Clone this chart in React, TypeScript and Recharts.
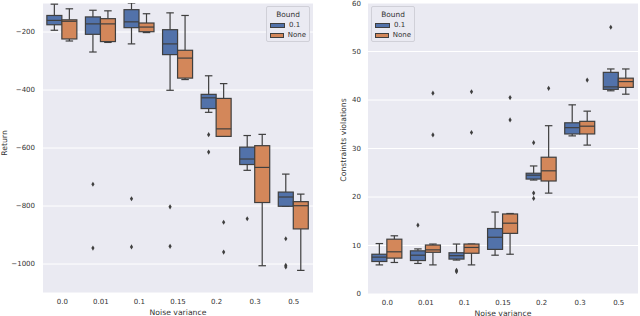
import React from 'react';
import { ComposedChart, Bar, XAxis, YAxis, CartesianGrid, Legend } from 'recharts';

const categories = ['0.0', '0.01', '0.1', '0.15', '0.2', '0.3', '0.5'];
const hueLabels = ['0.1', 'None'];

// Return panel, Bound = 0.1
const retBlueWhiHi = [-104, -125, -100, -134, -351, -557, -690];
const retBlueQ3 = [-143, -148, -123, -192, -415, -597, -752];
const retBlueMed = [-160, -172, -165, -241, -427, -638, -769];
const retBlueQ1 = [-175, -208, -185, -278, -464, -657, -801];
const retBlueWhiLo = [-194, -269, -241, -401, -477, -677, -801];
const retBlueOut = [[], [-725, -945], [-775, -941], [-803, -939], [-554, -614], [-844], [-913, -1005, -1010]];
// Return panel, Bound = None
const retOrWhiHi = [-120, -127, -137, -143, -378, -553, -759];
const retOrQ3 = [-158, -154, -169, -263, -429, -592, -785];
const retOrMed = [-163, -172, -183, -290, -534, -667, -799];
const retOrQ1 = [-224, -233, -199, -359, -560, -788, -879];
const retOrWhiLo = [-231, -236, -202, -364, -560, -1006, -1022];
const retOrOut = [[], [], [], [], [-856, -959], [], []];

// Constraint violations panel, Bound = 0.1
const conBlueWhiHi = [10.4, 9.3, 10.3, 16.9, 26.4, 39.0, 46.4];
const conBlueQ3 = [8.2, 8.9, 8.5, 13.5, 24.9, 35.3, 45.7];
const conBlueMed = [7.6, 8.0, 7.9, 11.7, 24.5, 34.3, 42.7];
const conBlueQ1 = [6.7, 6.9, 7.2, 9.2, 23.7, 33.0, 42.2];
const conBlueWhiLo = [6.0, 6.3, 7.0, 8.0, 23.5, 32.6, 41.9];
const conBlueOut = [[], [14.2], [4.9, 4.6], [], [20.8, 19.7, 31.2], [], [55.0]];
// Constraint violations panel, Bound = None
const conOrWhiHi = [12.0, 10.3, 10.3, 16.6, 34.7, 37.7, 46.4];
const conOrQ3 = [11.3, 10.1, 10.3, 16.5, 28.2, 35.6, 44.5];
const conOrMed = [8.7, 9.1, 9.6, 14.6, 25.4, 34.6, 43.8];
const conOrQ1 = [7.4, 8.6, 8.4, 12.5, 23.3, 33.0, 42.6];
const conOrWhiLo = [6.5, 6.0, 6.0, 8.2, 20.8, 30.7, 41.2];
const conOrOut = [[], [41.4, 32.8], [41.7, 33.3], [40.5, 35.9], [42.4], [44.1], []];

const retTicks = [-1000, -800, -600, -400, -200];
const conTicks = [0, 10, 20, 30, 40, 50, 60];

const BLUE = '#5272aa';
const ORANGE = '#d3875a';
const EDGE = '#3f3f3f';
const BG = '#eaeaf2';
const TEXT = '#333333';
const FONT = 'DejaVu Sans, sans-serif';

type Stats = { lo: number; q1: number; med: number; q3: number; hi: number; out: number[] };

function buildRows(
  bHi: number[], bQ3: number[], bMed: number[], bQ1: number[], bLo: number[], bOut: number[][],
  oHi: number[], oQ3: number[], oMed: number[], oQ1: number[], oLo: number[], oOut: number[][]
) {
  return categories.map((cat, i) => {
    const b: Stats = { lo: bLo[i], q1: bQ1[i], med: bMed[i], q3: bQ3[i], hi: bHi[i], out: bOut[i] };
    const o: Stats = { lo: oLo[i], q1: oQ1[i], med: oMed[i], q3: oQ3[i], hi: oHi[i], out: oOut[i] };
    return { cat, b, o, bRange: [b.lo, b.hi], oRange: [o.lo, o.hi] };
  });
}

const retRows = buildRows(
  retBlueWhiHi, retBlueQ3, retBlueMed, retBlueQ1, retBlueWhiLo, retBlueOut,
  retOrWhiHi, retOrQ3, retOrMed, retOrQ1, retOrWhiLo, retOrOut
);
const conRows = buildRows(
  conBlueWhiHi, conBlueQ3, conBlueMed, conBlueQ1, conBlueWhiLo, conBlueOut,
  conOrWhiHi, conOrQ3, conOrMed, conOrQ1, conOrWhiLo, conOrOut
);

const BoxShape = (props: any) => {
  const { x, y, width, height, payload, hue, color } = props;
  const s: Stats = payload[hue];
  const top = Math.min(y, y + height);
  const bot = Math.max(y, y + height);
  const span = s.hi - s.lo;
  const py = (v: number) => top + ((s.hi - v) / span) * (bot - top);
  const cx = x + width / 2;
  const capW = width / 2;
  const yQ3 = py(s.q3);
  const yQ1 = py(s.q1);
  const yMed = py(s.med);
  return (
    <g>
      <line x1={cx} x2={cx} y1={top} y2={yQ3} stroke={EDGE} strokeWidth={1.2} />
      <line x1={cx} x2={cx} y1={yQ1} y2={bot} stroke={EDGE} strokeWidth={1.2} />
      <line x1={cx - capW / 2} x2={cx + capW / 2} y1={top} y2={top} stroke={EDGE} strokeWidth={1.2} />
      <line x1={cx - capW / 2} x2={cx + capW / 2} y1={bot} y2={bot} stroke={EDGE} strokeWidth={1.2} />
      <rect x={x} y={yQ3} width={width} height={Math.max(yQ1 - yQ3, 0.5)} fill={color} stroke={EDGE} strokeWidth={1.2} />
      <line x1={x} x2={x + width} y1={yMed} y2={yMed} stroke={EDGE} strokeWidth={1.2} />
      {s.out.map((v, k) => {
        const oy = py(v);
        return (
          <path
            key={k}
            d={`M${cx},${oy - 2.6} L${cx + 1.6},${oy} L${cx},${oy + 2.6} L${cx - 1.6},${oy} Z`}
            fill={EDGE}
          />
        );
      })}
    </g>
  );
};

const LegendBox = () => (
  <div
    style={{
      width: 44,
      height: 36,
      boxSizing: 'border-box',
      border: '1px solid #d0d0d8',
      borderRadius: 2,
      background: BG,
      fontFamily: FONT,
      fontSize: 7,
      color: TEXT,
      padding: '3px 3px 0 3px',
    }}
  >
    <div style={{ textAlign: 'center', height: 10, lineHeight: '10px', fontSize: 7.4 }}>Bound</div>
    {hueLabels.map((lab, i) => (
      <div key={lab} style={{ display: 'flex', alignItems: 'center', height: 10, lineHeight: '10px' }}>
        <span
          style={{
            display: 'inline-block',
            width: 15,
            height: 5,
            background: i === 0 ? BLUE : ORANGE,
            border: `1px solid ${EDGE}`,
            boxSizing: 'border-box',
            marginRight: 4,
          }}
        />
        <span>{lab}</span>
      </div>
    ))}
  </div>
);

const RotLabel = (props: any) => {
  const { viewBox, value, dx, cy } = props;
  const vx = viewBox.x + dx;
  return (
    <text
      x={vx}
      y={cy}
      transform={`rotate(-90 ${vx} ${cy})`}
      textAnchor="middle"
      dominantBaseline="central"
      fontFamily={FONT}
      fontSize={7.7}
      fill={TEXT}
    >
      {value}
    </text>
  );
};

const fmtMinus = (v: number) => (v < 0 ? `\u2212${Math.abs(v)}` : `${v}`);

const tickStyle = { fontSize: 7, fill: TEXT, fontFamily: FONT };

export default function App() {
  return (
    <div style={{ position: 'absolute', left: 0, top: 0, width: 640, height: 316, background: '#fff' }}>
      <div style={{ position: 'absolute', left: 0, top: 0 }}>
        <ComposedChart
          width={320}
          height={316}
          data={retRows}
          margin={{ top: 3, right: 7, bottom: 0, left: 0 }}
          barCategoryGap="10%"
          barGap={0}
        >
          <CartesianGrid vertical={false} stroke="#ffffff" strokeWidth={1} fill={BG} />
          <XAxis
            dataKey="cat"
            height={23}
            tickLine={false}
            axisLine={false}
            tickSize={0}
            tickMargin={6}
            tick={tickStyle}
            label={{ value: 'Noise variance', position: 'insideBottom', offset: 1.5, fontSize: 7.7, fill: TEXT, fontFamily: FONT }}
          />
          <YAxis
            type="number"
            domain={[-1100, -100]}
            allowDataOverflow
            ticks={retTicks}
            width={43}
            tickLine={false}
            axisLine={false}
            tickSize={0}
            tickMargin={8}
            tick={tickStyle}
            tickFormatter={fmtMinus}
            label={<RotLabel value="Return" dx={4.5} cy={143} />}
          />
          <Bar dataKey="bRange" isAnimationActive={false} shape={(p: any) => <BoxShape {...p} hue="b" color={BLUE} />} />
          <Bar dataKey="oRange" isAnimationActive={false} shape={(p: any) => <BoxShape {...p} hue="o" color={ORANGE} />} />
          <Legend
            layout="horizontal"
            verticalAlign="middle"
            align="center"
            wrapperStyle={{ left: 266, top: 6, width: 44, height: 36 }}
            content={() => <LegendBox />}
          />
        </ComposedChart>
      </div>
      <div style={{ position: 'absolute', left: 320, top: 0 }}>
        <ComposedChart
          width={320}
          height={316}
          data={conRows}
          margin={{ top: 3, right: 2, bottom: 0, left: 0 }}
          barCategoryGap="10%"
          barGap={0}
        >
          <CartesianGrid vertical={false} stroke="#ffffff" strokeWidth={1} fill={BG} />
          <XAxis
            dataKey="cat"
            height={22}
            tickLine={false}
            axisLine={false}
            tickSize={0}
            tickMargin={6}
            tick={tickStyle}
            label={{ value: 'Noise variance', position: 'insideBottom', offset: 0.5, fontSize: 7.7, fill: TEXT, fontFamily: FONT }}
          />
          <YAxis
            type="number"
            domain={[0, 60]}
            allowDataOverflow
            ticks={conTicks}
            width={48}
            tickLine={false}
            axisLine={false}
            tickSize={0}
            tickMargin={7}
            tick={tickStyle}
            label={<RotLabel value="Constraints violations" dx={23} cy={140} />}
          />
          <Bar dataKey="bRange" isAnimationActive={false} shape={(p: any) => <BoxShape {...p} hue="b" color={BLUE} />} />
          <Bar dataKey="oRange" isAnimationActive={false} shape={(p: any) => <BoxShape {...p} hue="o" color={ORANGE} />} />
          <Legend
            layout="horizontal"
            verticalAlign="middle"
            align="center"
            wrapperStyle={{ left: 51, top: 6, width: 46, height: 36 }}
            content={() => <LegendBox />}
          />
        </ComposedChart>
      </div>
    </div>
  );
}
